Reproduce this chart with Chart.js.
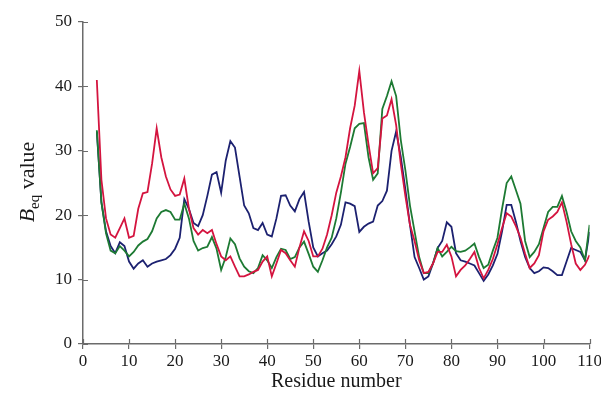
<!DOCTYPE html>
<html>
<head>
<meta charset="utf-8">
<script src="https://cdn.jsdelivr.net/npm/chart.js@4.4.1/dist/chart.umd.min.js"></script>
<style>
  html, body { margin: 0; padding: 0; background: #fff; overflow: hidden; }
  #wrap { width: 604px; height: 398px; position: relative; }
</style>
</head>
<body>
<div id="wrap"><canvas id="chart-line-1"></canvas></div>
<script>
var residues = [3, 4, 5, 6, 7, 8, 9, 10, 11, 12,
    13, 14, 15, 16, 17, 18, 19, 20, 21, 22,
    23, 24, 25, 26, 27, 28, 29, 30, 31, 32,
    33, 34, 35, 36, 37, 38, 39, 40, 41, 42,
    43, 44, 45, 46, 47, 48, 49, 50, 51, 52,
    53, 54, 55, 56, 57, 58, 59, 60, 61, 62,
    63, 64, 65, 66, 67, 68, 69, 70, 71, 72,
    73, 74, 75, 76, 77, 78, 79, 80, 81, 82,
    83, 84, 85, 86, 87, 88, 89, 90, 91, 92,
    93, 94, 95, 96, 97, 98, 99, 100, 101, 102,
    103, 104, 105, 106, 107, 108, 109, 110];

var redVals = [41, 25.5, 19.5, 17, 16.5, 18, 19.5, 16.5, 16.8, 21,
    23.4, 23.6, 28, 33.5, 29, 26, 24, 23, 23.2, 25.7,
    21, 18, 17, 17.7, 17.2, 17.7, 15.5, 13.6, 13, 13.6,
    12, 10.5, 10.5, 10.8, 11.2, 11.5, 12.8, 13.6, 10.5, 12.5,
    14.6, 14.1, 13, 12, 15, 17.5, 16, 13.6, 13.6, 14.8,
    17, 20, 23.5, 26, 29, 33.5, 37, 42.4, 36, 31,
    26.5, 27.3, 35, 35.5, 38, 34, 28, 23, 18.5, 16,
    13, 11, 11.2, 12.5, 14.3, 14.3, 15.4, 13.6, 10.5, 11.5,
    12.2, 13.2, 14.3, 11.8, 10.2, 11.5, 13.2, 15.5, 18, 20.3,
    19.8, 18.3, 16.5, 14, 11.8, 12.5, 13.8, 17.5, 19.3, 19.8,
    20.5, 22, 19, 15.5, 12.5, 11.5, 12.3, 13.8];

var greenVals = [33.2, 22, 17.2, 14.5, 14.1, 15.2, 14.5, 13.6, 14.3, 15.3,
    15.9, 16.3, 17.5, 19.5, 20.5, 20.8, 20.5, 19.3, 19.3, 21.8,
    19.5, 16, 14.5, 14.9, 15.1, 16.6, 14.8, 11.5, 13.5, 16.4,
    15.5, 13.3, 12, 11.3, 11, 11.8, 13.8, 13, 11.8, 13.5,
    14.8, 14.6, 13.2, 13.5, 15, 15.9, 14, 12, 11.2, 13,
    15, 16.5, 19.5, 23.5, 28, 30.6, 33.5, 34.2, 34.3, 29,
    25.5, 26.5, 36.5, 38.5, 40.8, 38.5, 31.7, 27, 21.5, 17.5,
    13.5, 11, 11, 12.5, 14.9, 13.6, 14.3, 15.1, 14.4, 14.3,
    14.5, 15, 15.6, 13.5, 11.8, 12.3, 14.5, 16.5, 21, 25,
    26, 23.9, 21.8, 16, 13.5, 14.3, 15.5, 18, 20.5, 21.3,
    21.3, 23, 20.5, 17.5, 16, 15, 13, 18.5];

var blueVals = [33, 22, 17.5, 15.2, 14.1, 15.8, 15.2, 12.8, 11.7, 12.5,
    13, 12, 12.5, 12.8, 13, 13.2, 13.8, 14.8, 16.5, 22.5,
    21, 18.8, 18.3, 20, 23, 26.3, 26.7, 23.5, 28.5, 31.5,
    30.5, 26, 21.5, 20.3, 18, 17.7, 18.8, 17, 16.7, 19.5,
    23, 23.1, 21.5, 20.6, 22.5, 23.6, 19, 15, 13.6, 14.1,
    14.5, 15.5, 16.7, 18.5, 22, 21.8, 21.4, 17.4, 18.2, 18.7,
    19, 21.5, 22.2, 23.8, 30, 33, 29.1, 24, 18.5, 13.5,
    11.8, 10, 10.5, 12.5, 14.9, 16, 18.9, 18.2, 14.1, 13,
    12.8, 12.5, 12.2, 11, 9.8, 10.8, 12.2, 14, 17.5, 21.6,
    21.6, 19, 16, 13.5, 11.8, 11, 11.3, 11.9, 11.8, 11.3,
    10.7, 10.7, 12.8, 14.9, 14.6, 14.3, 13, 17.4];

var xTicks = [0, 10, 20, 30, 40, 50, 60, 70, 80, 90, 100, 110];
var yTicks = [0, 10, 20, 30, 40, 50];

function toPoints(vals) {
    return residues.map(function(r, i) { return { x: r, y: vals[i] }; });
}

var serif = '"Liberation Serif", "DejaVu Serif", serif';
var axisColor = '#6b6b6b';

// tick marks crossing the axis, and the y title with its subscript
var extras = {
    id: 'extras',
    afterDraw: function(chart) {
        var ctx = chart.ctx;
        var xs = chart.scales.x, ys = chart.scales.y;
        var area = chart.chartArea;
        ctx.save();
        ctx.strokeStyle = axisColor;
        ctx.lineWidth = 1.2;
        ctx.beginPath();
        xTicks.forEach(function(t) {
            var px = Math.round(xs.getPixelForValue(t)) + 0.5;
            ctx.moveTo(px, area.bottom);
            ctx.lineTo(px, area.bottom - 5);
        });
        yTicks.forEach(function(t) {
            var py = Math.round(ys.getPixelForValue(t)) + 0.5;
            ctx.moveTo(area.left, py);
            ctx.lineTo(area.left + 5, py);
        });
        ctx.stroke();

        ctx.translate(34, 182);
        ctx.rotate(-Math.PI / 2);
        ctx.fillStyle = '#1a1a1a';
        ctx.textBaseline = 'alphabetic';
        var f1 = 'italic 22px ' + serif, f2 = '15px ' + serif, f3 = '22px ' + serif;
        ctx.font = f1; var w1 = ctx.measureText('B').width;
        ctx.font = f2; var w2 = ctx.measureText('eq').width;
        ctx.font = f3; var w3 = ctx.measureText(' value').width;
        var x0 = -(w1 + w2 + w3) / 2;
        ctx.font = f1; ctx.fillText('B', x0, 0);
        ctx.font = f2; ctx.fillText('eq', x0 + w1, 5);
        ctx.font = f3; ctx.fillText(' value', x0 + w1 + w2, 0);
        ctx.restore();
    }
};

var ctx = document.getElementById('chart-line-1').getContext('2d');
var myChart = new Chart(ctx, {
    type: 'line',
    data: {
        datasets: [{
            label: 'Series 1',
            data: toPoints(redVals),
            borderColor: '#d4143f',
            borderWidth: 1.8,
            pointRadius: 0,
            tension: 0
        }, {
            label: 'Series 2',
            data: toPoints(greenVals),
            borderColor: '#1d7a33',
            borderWidth: 1.8,
            pointRadius: 0,
            tension: 0
        }, {
            label: 'Series 3',
            data: toPoints(blueVals),
            borderColor: '#1c2170',
            borderWidth: 1.8,
            pointRadius: 0,
            tension: 0
        }]
    },
    options: {
        responsive: true,
        maintainAspectRatio: false,
        animation: false,
        layout: { padding: { left: 0, top: 22, right: 12, bottom: 0 } },
        plugins: {
            legend: { display: false },
            tooltip: { enabled: false }
        },
        scales: {
            x: {
                type: 'linear',
                min: 0,
                max: 110,
                afterBuildTicks: function(scale) {
                    scale.ticks = xTicks.map(function(v) { return { value: v }; });
                },
                afterFit: function(scale) { scale.height = 54; },
                grid: { drawOnChartArea: false, tickLength: 5, color: axisColor, lineWidth: 1.2 },
                border: { color: axisColor, width: 1.5 },
                ticks: {
                    color: '#1a1a1a',
                    padding: 2,
                    maxRotation: 0,
                    autoSkip: false,
                    font: { family: serif, size: 17 }
                },
                title: {
                    display: true,
                    text: 'Residue number',
                    color: '#1a1a1a',
                    font: { family: serif, size: 20 },
                    padding: { top: 0, bottom: 4 }
                }
            },
            y: {
                min: 0,
                max: 50,
                afterBuildTicks: function(scale) {
                    scale.ticks = yTicks.map(function(v) { return { value: v }; });
                },
                afterFit: function(scale) { scale.width = 83; },
                grid: { drawOnChartArea: false, tickLength: 5, color: axisColor, lineWidth: 1.2 },
                border: { color: axisColor, width: 1.5 },
                ticks: {
                    color: '#1a1a1a',
                    padding: 6,
                    font: { family: serif, size: 17 }
                }
            }
        }
    },
    plugins: [extras]
});
</script>
</body>
</html>
